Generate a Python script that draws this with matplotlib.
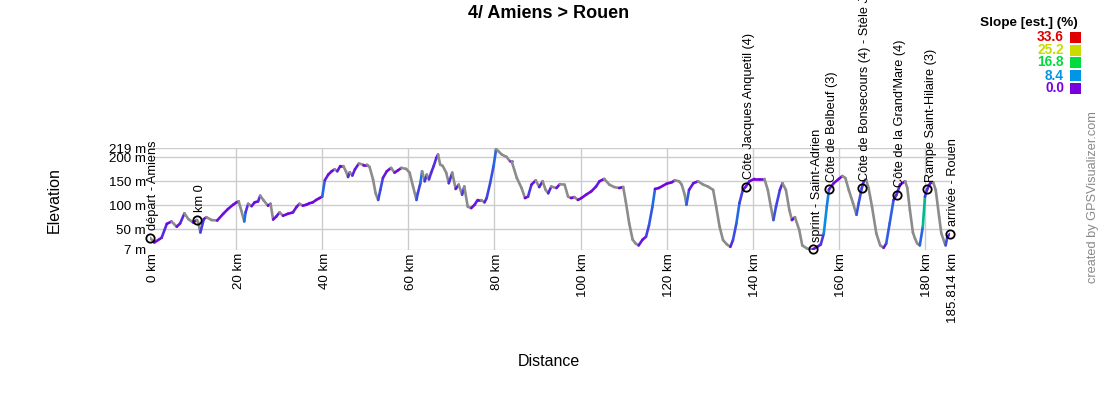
import matplotlib
matplotlib.use('Agg')
import matplotlib.pyplot as plt
from matplotlib.collections import LineCollection
from matplotlib.colors import LinearSegmentedColormap, Normalize
from matplotlib.patches import Rectangle
from matplotlib.transforms import ScaledTranslation
import numpy as np

plt.rcParams['font.family'] = ['Liberation Sans', 'DejaVu Sans']

title = "4/ Amiens > Rouen"

dist_km = [0, 1.0, 2.7, 3.9, 5.0, 6.2, 7.0, 8.0, 8.9, 10.0, 10.9, 11.2, 11.7, 12.5, 13.1,
           14.3, 15.6, 17.0, 18.1, 19.3, 20.1, 20.6, 21.2, 21.9, 22.2, 22.8, 23.6, 24.3,
           25.1, 25.6, 26.4, 27.4, 28.0, 28.6, 29.3, 30.1, 30.9, 32.0, 33.2, 34.0, 34.7,
           35.5, 36.3, 37.0, 37.8, 38.6, 39.4, 40.0, 40.6, 41.4, 42.2, 42.9, 43.5, 44.2,
           44.9, 45.5, 46.0, 46.4, 47.0, 47.6, 48.5, 49.5, 50.4, 51.0, 51.8, 52.4, 53.0,
           53.5, 54.1, 55.0, 56.0, 56.8, 57.6, 58.4, 59.5, 60.3, 61.1, 61.9, 62.2, 62.8,
           63.2, 63.8, 64.3, 64.8, 65.3, 65.9, 66.5, 66.9, 67.4, 68.0, 68.8, 69.4, 70.2,
           71.0, 71.7, 72.5, 73.0, 73.8, 74.6, 75.4, 76.1, 76.9, 77.7, 78.2, 79.0, 79.8,
           80.4, 80.9, 81.7, 82.8, 83.6, 84.0, 85.2, 86.3, 87.1, 87.8, 88.6, 89.6, 90.4,
           91.2, 91.9, 92.5, 93.2, 94.4, 95.2, 96.3, 97.1, 97.8, 98.6, 99.4, 100.2, 101.3,
           102.5, 103.6, 104.4, 105.5, 106.7, 107.8, 109.0, 109.9, 110.5, 111.3, 112.1,
           112.8, 113.5, 114.4, 115.2, 115.9, 116.7, 117.3, 118.2, 120.0, 121.2, 121.9,
           122.9, 123.5, 124.2, 124.6, 125.2, 126.2, 127.3, 128.5, 129.6, 130.8, 131.5,
           132.3, 133.1, 134.0, 134.8, 135.4, 136.2, 136.9, 137.7, 138.4, 139.2, 140.4,
           141.5, 142.7, 143.5, 144.2, 144.8, 145.4, 146.3, 146.9, 147.7, 148.5, 149.1,
           149.8, 150.8, 151.5, 152.7, 154.0, 155.0, 155.8, 156.5, 157.2, 157.7, 158.8,
           160.0, 160.8, 161.5, 162.3, 163.3, 164.1, 164.6, 165.3, 165.8, 166.3, 166.9,
           167.7, 168.7, 169.6, 170.4, 171.0, 171.8, 172.7, 173.4, 174.2, 175.4, 175.9,
           176.5, 177.2, 177.7, 178.2, 178.8, 179.5, 180.0, 180.5, 181.2, 181.9, 182.5,
           183.3, 183.8, 184.5, 184.8, 185.2, 185.814]
elev_m = [32, 22, 32, 61, 66, 55, 62, 83, 71, 64, 69, 64, 43, 71, 75,
          69, 68, 82, 92, 101, 106, 108, 89, 66, 85, 103, 98, 106,
          108, 120, 110, 99, 103, 70, 76, 85, 78, 82, 85, 96, 103,
          99, 101, 104, 106, 111, 115, 118, 152, 164, 171, 175, 171, 182,
          182, 171, 159, 169, 162, 175, 187, 185, 185, 180, 154, 125, 111,
          132, 157, 171, 178, 168, 173, 178, 176, 168, 139, 111, 125, 146,
          171, 150, 164, 154, 168, 182, 199, 206, 185, 182, 168, 146, 168,
          134, 143, 122, 139, 97, 94, 101, 111, 111, 106, 115, 146, 182,
          217, 213, 206, 201, 192, 192, 157, 136, 115, 118, 143, 152, 138,
          150, 132, 125, 139, 136, 144, 143, 118, 115, 117, 111, 115, 122,
          129, 139, 150, 155, 143, 138, 136, 138, 108, 62, 28,
          20, 16, 28, 34, 58, 97, 134, 136, 145, 148, 152,
          150, 143, 122, 101, 132, 146, 150, 143, 139, 132, 97,
          55, 27, 18, 13, 27, 62, 104, 132, 139, 150, 155,
          155, 155, 132, 97, 69, 97, 132, 146, 132, 90, 69,
          75, 48, 16, 9, 8, 13, 18, 41, 97, 133, 146,
          155, 161, 157, 132, 104, 80, 104, 135, 150, 154, 136,
          97, 41, 16, 11, 20, 62, 111, 122, 143, 150, 136,
          90, 43, 30, 20, 16, 55, 118, 133, 146, 148, 132,
          75, 41, 23, 16, 34, 40]

wp_names = ["départ - Amiens", "km 0", "Côte Jacques Anquetil (4)",
            "sprint - Saint-Adrien", "Côte de Belbeuf (3)",
            "Côte de Bonsecours (4) - Stèle Jean Robic",
            "Côte de la Grand'Mare (4)", "Rampe Saint-Hilaire (3)", "arrivée - Rouen"]
wp_km = [0, 10.9, 138.4, 154.0, 157.7, 165.3, 173.4, 180.5, 185.814]
wp_elev = [32, 69, 139, 8, 133, 135, 122, 133, 40]

xtick_km = [0, 20, 40, 60, 80, 100, 120, 140, 160, 180, 185.814]
xtick_labels = ["0 km", "20 km", "40 km", "60 km", "80 km", "100 km", "120 km",
                "140 km", "160 km", "180 km", "185.814 km"]
ytick_m = [7, 50, 100, 150, 200, 219]
ytick_labels = ["7 m", "50 m", "100 m", "150 m", "200 m", "219 m"]

legend_title = "Slope [est.] (%)"
slope_values = [33.6, 25.2, 16.8, 8.4, 0.0]
slope_colors = ['#e00000', '#c8dc00', '#00dc3c', '#0096e6', '#7800dc']
downhill_color = '#8c8c8c'

W, H = 1100, 400
fig = plt.figure(figsize=(W / 100, H / 100), dpi=100)
ax = fig.add_axes([150 / W, 1 - 249.7 / H, 800 / W, (249.7 - 148.3) / H])

x = np.array(dist_km, dtype=float)
y = np.array(elev_m, dtype=float)
pts = np.column_stack([x, y]).reshape(-1, 1, 2)
segs = np.concatenate([pts[:-1], pts[1:]], axis=1)
slope = np.diff(y) / (np.diff(x) * 1000.0) * 100.0
stops = sorted(zip(slope_values, slope_colors))
vmax = max(slope_values)
cmap = LinearSegmentedColormap.from_list('slope', [(v / vmax, c) for v, c in stops])
norm = Normalize(0, vmax)
seg_colors = [downhill_color if s < 0 else cmap(norm(s)) for s in slope]
lc = LineCollection(segs, colors=seg_colors, linewidths=1.9, capstyle='round',
                    joinstyle='round', zorder=3)
ax.add_collection(lc)

ax.set_xlim(0, 185.814)
ax.set_ylim(7, 219)
ax.set_xticks(xtick_km)
ax.set_xticklabels(xtick_labels, rotation=90, fontsize=9.6)
ax.set_yticks(ytick_m)
ax.set_yticklabels(ytick_labels, fontsize=9.6)
ax.tick_params(length=0)
ax.tick_params(axis='y', pad=3)
ax.tick_params(axis='x', pad=2.5)
shift = ScaledTranslation(2.5 / 100, 0, fig.dpi_scale_trans)
for lab in ax.get_xticklabels():
    lab.set_transform(lab.get_transform() + shift)
ax.grid(True, color='#cccccc', linewidth=1.0, zorder=0)
gl = ax.xaxis.get_gridlines()
gl[0].set_visible(False)
gl[-1].set_visible(False)
for s in ax.spines.values():
    s.set_visible(False)

ax.plot(wp_km, wp_elev, linestyle='none', marker='o', markersize=6,
        markerfacecolor='none', markeredgecolor='black', markeredgewidth=1.3,
        zorder=5, clip_on=False)
for name, k, e in zip(wp_names, wp_km, wp_elev):
    ax.annotate(name, xy=(k, e), xytext=(2.5, 5.5), textcoords='offset points',
                rotation=90, rotation_mode='anchor', ha='left', va='center',
                fontsize=9.2, annotation_clip=False, zorder=6)

fig.text(549 / W, 1 - 13 / H, title, ha='center', va='center', fontsize=13, fontweight='bold')
fig.text(54 / W, 1 - 200 / H, "Elevation", rotation=90, ha='center', va='center', fontsize=11.5)
fig.text(549 / W, 1 - 362 / H, "Distance", ha='center', va='center', fontsize=11.5)

fig.text(1029 / W, 1 - 22.7 / H, legend_title, ha='center', va='center', fontsize=9.7,
         fontweight='bold')
leg_y = [37, 50, 62.5, 75.5, 88.5]
for v, c, yc in zip(slope_values, slope_colors, leg_y):
    fig.text(1064 / W, 1 - yc / H, f"{v:.1f}", ha='right', va='center', color=c,
             fontsize=9.9, fontweight='bold')
    fig.patches.append(Rectangle((1070 / W, 1 - (yc + 5.5) / H), 11 / W, 11 / H,
                                 transform=fig.transFigure, facecolor=c, edgecolor='none'))

fig.text(1093 / W, 1 - 197 / H, "created by GPSVisualizer.com", rotation=90, ha='center',
         va='center', color='#888888', fontsize=9.2)

fig.savefig('out.png', dpi=100)
